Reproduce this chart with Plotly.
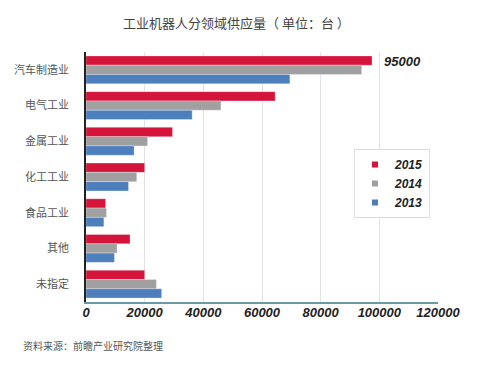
import plotly.graph_objects as go

categories = ["汽车制造业", "电气工业", "金属工业", "化工工业", "食品工业", "其他", "未指定"]
years = ["2015", "2014", "2013"]
v2015 = [97500, 64500, 29500, 20000, 6700, 15000, 20000]
v2014 = [94000, 46000, 21000, 17300, 7000, 10600, 24000]
v2013 = [69500, 36200, 16400, 14500, 6100, 9700, 25800]
colors = ["#d4143a", "#a0a0a0", "#4e7fbd"]
tick_vals = [0, 20000, 40000, 60000, 80000, 100000, 120000]
tick_text = ["0", "20000", "40000", "60000", "80000", "100000", "120000"]
title_text = "工业机器人分领域供应量（ 单位：台 ）"
source_text = "资料来源：前瞻产业研究院整理"
top_label = "95000"

cjk = "Noto Sans CJK SC, Noto Sans, sans-serif"
latin = "Liberation Sans, Arial, sans-serif"

W, H = 502, 370
L, R, T, B = 78, 72, 44, 76
pw, ph = W - L - R, H - T - B


def px_x(x):
    return (x - L) / pw


def px_y(y):
    return (H - B - y) / ph


fig = go.Figure()
for name, vals, col in zip(years, [v2015, v2014, v2013], colors):
    fig.add_trace(go.Bar(
        y=categories, x=vals, name=name, orientation="h", legendgroup=name,
        showlegend=False,
        marker=dict(color=col, line=dict(color="rgba(255,255,255,0.6)", width=0.5)),
    ))
# legend entries with small square markers
for name, col in zip(years, colors):
    fig.add_trace(go.Scatter(
        x=[None], y=[None], mode="markers", name=name, legendgroup=name,
        marker=dict(symbol="square", size=6, color=col), showlegend=True,
    ))

fig.update_layout(
    width=W, height=H,
    margin=dict(l=L, r=R, t=T, b=B),
    paper_bgcolor="white", plot_bgcolor="white",
    barmode="group", bargap=0.22, bargroupgap=0,
    showlegend=True,
    legend=dict(
        x=px_x(346), y=px_y(141), xanchor="left", yanchor="top",
        bgcolor="white", bordercolor="#dcdcdc", borderwidth=1,
        font=dict(family=latin, size=12, color="#222", weight="bold", style="italic"),
        tracegroupgap=0, itemwidth=30,
    ),
    xaxis=dict(
        range=[0, 120000], tickvals=tick_vals, ticktext=tick_text,
        showgrid=True, gridcolor="#e3e3e3", gridwidth=1,
        showline=True, linecolor="#6a9aa6", linewidth=1.5,
        zeroline=False, ticks="", automargin=False,
        tickfont=dict(family=latin, size=13, color="#222", weight="bold", style="italic"),
        ticklabelstandoff=-2,
    ),
    yaxis=dict(
        autorange="reversed", showline=True, linecolor="#222", linewidth=1.5,
        showgrid=False, ticks="", zeroline=False, automargin=False,
        tickfont=dict(family=cjk, size=11, color="#555"),
        ticklabelstandoff=13,
    ),
    annotations=[
        dict(text=title_text, x=px_x(228), y=px_y(15), xref="paper", yref="paper",
             xanchor="center", yanchor="middle", showarrow=False,
             font=dict(family=cjk, size=13, color="#444")),
        dict(text=source_text, x=px_x(13), y=px_y(337), xref="paper", yref="paper",
             xanchor="left", yanchor="middle", showarrow=False,
             font=dict(family=cjk, size=10, color="#555")),
        dict(text=top_label, x=v2015[0], y=categories[0], xref="x", yref="y",
             xanchor="left", yshift=8, xshift=10, showarrow=False,
             font=dict(family=latin, size=13, color="#222", weight="bold", style="italic")),
    ],
)

fig.write_html("out.html")
